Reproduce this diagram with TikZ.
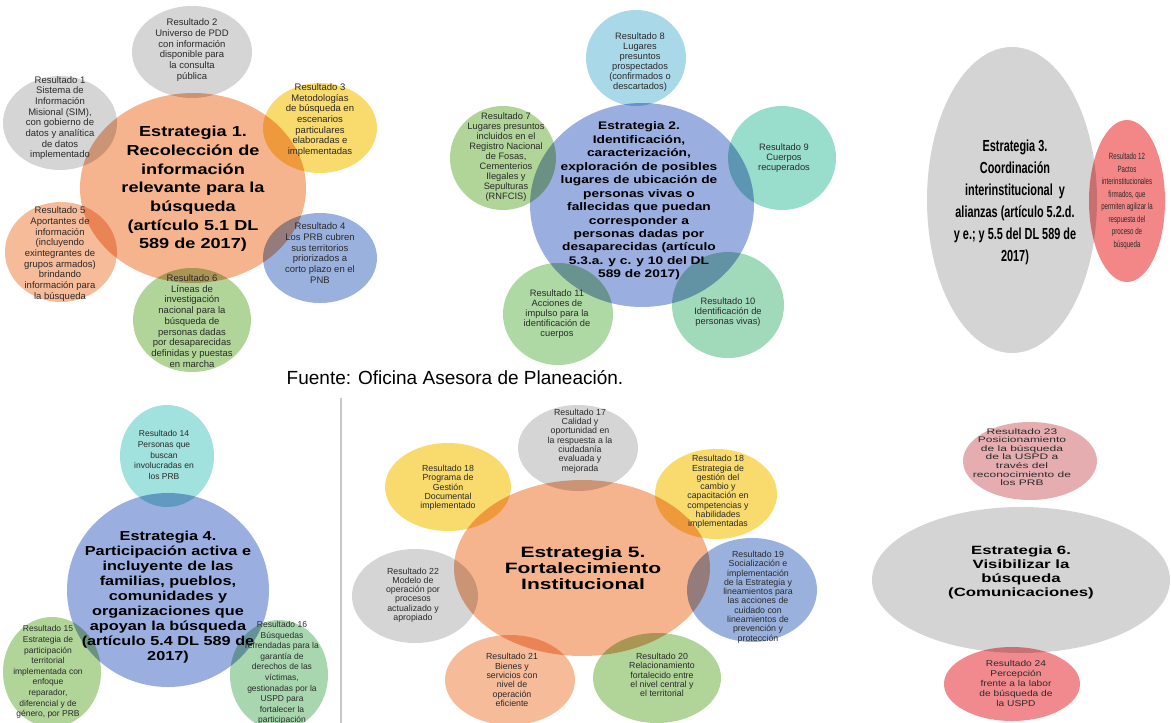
\documentclass[tikz,border=0pt]{standalone}
\usepackage{fontspec}
\setmainfont{Liberation Sans}
\newfontfamily\wideA[FakeStretch=1.25]{Liberation Sans}
\newfontfamily\wideB[FakeStretch=1.4]{Liberation Sans}
\newfontfamily\wideC[FakeStretch=1.2]{Liberation Sans}
\newfontfamily\wideD[FakeStretch=1.5]{Liberation Sans}
\newfontfamily\narrowA[FakeStretch=0.68]{Liberation Sans}
\usetikzlibrary{shapes.geometric}
\definecolor{corange}{HTML}{F5B48E}
\definecolor{cgrey}{HTML}{D0D0D0}
\definecolor{cyellow}{HTML}{F8D65C}
\definecolor{cblue}{HTML}{8FA9DA}
\definecolor{cgreen}{HTML}{A8D08D}
\definecolor{cperi}{HTML}{9BAEE0}
\definecolor{clblue}{HTML}{A0D4E6}
\definecolor{cteal}{HTML}{8ED9C6}
\definecolor{csea}{HTML}{97D5B4}
\definecolor{cgreenb}{HTML}{A6D59A}
\definecolor{cred}{HTML}{F27A7A}
\definecolor{cgreyb}{HTML}{D4D4D4}
\definecolor{cteal2}{HTML}{97DEDA}
\definecolor{cgreenc}{HTML}{9ED3A6}
\definecolor{cpink}{HTML}{E3A4A9}
\definecolor{cred2}{HTML}{F07D82}
\definecolor{tdark}{HTML}{2A2A2A}
\definecolor{cdiv}{HTML}{C8C8C8}
\tikzset{
  blob/.style={ellipse, inner sep=0pt, draw=none},
  bub/.style={ellipse, inner sep=0pt, draw=none, blend mode=multiply, fill opacity=0.9},
  sz/.style 2 args={minimum width=#1pt, minimum height=#2pt},
  rt/.style={align=center, inner sep=0pt, text=tdark},
  st/.style={align=center, inner sep=0pt, text=black},
  fA/.style={font=\fontsize{9.5}{10.7}\selectfont},
  fB/.style={font=\fontsize{9.3}{10}\selectfont},
  fC/.style={font=\fontsize{8.5}{10.6}\selectfont},
  fD/.style={font=\fontsize{8.8}{9.3}\selectfont},
  fE/.style={font=\wideD\fontsize{8}{8.6}\selectfont},
  fF/.style={font=\wideC\fontsize{8.5}{10}\selectfont},
  fN/.style={font=\narrowA\fontsize{9}{12.5}\selectfont},
  divider/.style={draw=cdiv, line width=1.5pt}
}
\begin{document}
\begin{tikzpicture}[x=1pt,y=-1pt]
\useasboundingbox (0,0) rectangle (1171,723);

% ---------------- Estrategia 1 ----------------
\node[blob, fill=corange, sz={226}{190}] (s1) at (193,188) {};
\node[bub, fill=cgrey,  sz={120}{92}]  (r2) at (192,52) {};
\node[bub, fill=cgrey,  sz={114}{94}]  (r1) at (60,123) {};
\node[bub, fill=cyellow,sz={114}{90}]  (r3) at (320,128) {};
\node[bub, fill=cblue,  sz={114}{90}]  (r4) at (320,258) {};
\node[bub, fill=corange,sz={112}{100}] (r5) at (61,252) {};
\node[bub, fill=cgreen, sz={118}{104}] (r6) at (192,320) {};
\node[st, font=\wideA\bfseries\fontsize{14.5}{18.7}\selectfont] (s1t) at (193,189)
  {Estrategia 1.\\Recolección de\\información\\relevante para la\\búsqueda\\(artículo 5.1 DL\\589 de 2017)};
\node[rt, fA] (r2t) at (192,50) {Resultado 2\\Universo de PDD\\con información\\disponible para\\la consulta\\pública};
\node[rt, fA] (r1t) at (60,118) {Resultado 1\\Sistema de\\Información\\Misional (SIM),\\con gobierno de\\datos y analítica\\de datos\\implementado};
\node[rt, fA] (r3t) at (320,120) {Resultado 3\\Metodologías\\de búsqueda en\\escenarios\\particulares\\elaboradas e\\implementadas};
\node[rt, fA] (r4t) at (320,253) {Resultado 4\\Los PRB cubren\\sus territorios\\priorizados a\\corto plazo en el\\PNB};
\node[rt, fA] (r5t) at (60,254) {Resultado 5\\Aportantes de\\información\\(incluyendo\\exintegrantes de\\grupos armados)\\brindando\\información para\\la búsqueda};
\node[rt, fA] (r6t) at (192,321) {Resultado 6\\Líneas de\\investigación\\nacional para la\\búsqueda de\\personas dadas\\por desaparecidas\\definidas y puestas\\en marcha};

% ---------------- Estrategia 2 ----------------
\node[blob, fill=cperi, sz={224}{204}] (s2) at (642,205) {};
\node[bub, fill=clblue, sz={100}{96}]  (r8)  at (636,58) {};
\node[bub, fill=cgreen, sz={106}{104}] (r7)  at (503,158) {};
\node[bub, fill=cteal,  sz={108}{104}] (r9)  at (782,158) {};
\node[bub, fill=csea,   sz={112}{106}] (r10) at (728,305) {};
\node[bub, fill=cgreenb,sz={110}{102}] (r11) at (558,314) {};
\node[st, font=\wideA\bfseries\fontsize{11}{13.45}\selectfont] (s2t) at (639,201)
  {Estrategia 2.\\Identificación,\\caracterización,\\exploración de posibles\\lugares de ubicación de\\personas vivas o\\fallecidas que puedan\\corresponder a\\personas dadas por\\desaparecidas (artículo\\5.3.a. y c. y 10 del DL\\589 de 2017)};
\node[rt, fB] (r8t)  at (640,62) {Resultado 8\\Lugares\\presuntos\\prospectados\\(confirmados o\\descartados)};
\node[rt, fB] (r7t)  at (506,157) {Resultado 7\\Lugares presuntos\\incluidos en el\\Registro Nacional\\de Fosas,\\Cementerios\\Ilegales y\\Sepulturas\\(RNFCIS)};
\node[rt, fB] (r9t)  at (784,158) {Resultado 9\\Cuerpos\\recuperados};
\node[rt, fB] (r10t) at (728,312) {Resultado 10\\Identificación de\\personas vivas)};
\node[rt, fB] (r11t) at (557,314) {Resultado 11\\Acciones de\\impulso para la\\identificación de\\cuerpos};

\node[inner sep=0pt, font=\fontsize{19}{21}\selectfont] (cap) at (455,378) {Fuente: Oficina Asesora de Planeación.};

% ---------------- Estrategia 3 ----------------
\node[blob, fill=cgreyb, sz={170}{306}] (s3) at (1012,200) {};
\node[bub, fill=cred, sz={76}{162}] (r12) at (1127,201) {};
\node[st, font=\narrowA\bfseries\fontsize{16}{22}\selectfont] (s3t) at (1015,202)
  {Estrategia 3.\\Coordinación\\interinstitucional\ \ y\\alianzas (artículo 5.2.d.\\y e.; y 5.5 del DL 589 de\\2017)};
\node[rt, fN] (r12t) at (1127,201) {Resultado 12\\Pactos\\interinstitucionales\\firmados, que\\permiten agilizar la\\respuesta del\\proceso de\\búsqueda};

% ---------------- divider ----------------
\coordinate (d1) at (341,398);
\coordinate (d2) at (341,723);
\draw[divider] (d1) -- (d2);

% ---------------- Estrategia 4 ----------------
\node[blob, fill=cperi, sz={202}{194}] (s4) at (168,590) {};
\node[bub, fill=cteal2, sz={94}{102}]  (r14) at (167,456) {};
\node[bub, fill=cgreen, sz={98}{110}]  (r15) at (52,672) {};
\node[bub, fill=cgreenc,sz={98}{110}]  (r16) at (279,675) {};
\node[st, font=\wideA\bfseries\fontsize{13}{15}\selectfont] (s4t) at (168,597)
  {Estrategia 4.\\Participación activa e\\incluyente de las\\familias, pueblos,\\comunidades y\\organizaciones que\\apoyan la búsqueda\\(artículo 5.4 DL 589 de\\2017)};
\node[rt, fC] (r14t) at (164,455) {Resultado 14\\Personas que\\buscan\\involucradas en\\los PRB};
\node[rt, fC] (r15t) at (48,672) {Resultado 15\\Estrategia de\\participación\\territorial\\implementada con\\enfoque\\reparador,\\diferencial y de\\género, por PRB};
\node[rt, fC] (r16t) at (282,673) {Resultado 16\\Búsquedas\\refrendadas para la\\garantía de\\derechos de las\\víctimas,\\gestionadas por la\\USPD para\\fortalecer la\\participación};

% ---------------- Estrategia 5 ----------------
\node[blob, fill=corange, sz={256}{176}] (s5) at (582,568) {};
\node[bub, fill=cgrey,  sz={120}{86}]  (r17)  at (578,448) {};
\node[bub, fill=cyellow,sz={126}{88}]  (r18a) at (448,487) {};
\node[bub, fill=cyellow,sz={122}{90}]  (r18b) at (716,494) {};
\node[bub, fill=cblue,  sz={130}{104}] (r19)  at (752,590) {};
\node[bub, fill=cgreen, sz={128}{90}]  (r20)  at (657,678) {};
\node[bub, fill=corange,sz={130}{90}]  (r21)  at (510,680) {};
\node[bub, fill=cgrey,  sz={126}{94}]  (r22)  at (415,596) {};
\node[st, font=\wideB\bfseries\fontsize{15}{16}\selectfont] (s5t) at (583,568)
  {Estrategia 5.\\Fortalecimiento\\Institucional};
\node[rt, fD] (r17t)  at (580,441) {Resultado 17\\Calidad y\\oportunidad en\\la respuesta a la\\ciudadanía\\evaluada y\\mejorada};
\node[rt, fD] (r18at) at (448,488) {Resultado 18\\Programa de\\Gestión\\Documental\\implementado};
\node[rt, fD] (r18bt) at (718,492) {Resultado 18\\Estrategia de\\gestión del\\cambio y\\capacitación en\\competencias y\\habilidades\\implementadas};
\node[rt, fD] (r19t)  at (758,597) {Resultado 19\\Socialización e\\implementación\\de la Estrategia y\\lineamientos para\\las acciones de\\cuidado con\\lineamientos de\\prevención y\\protección};
\node[rt, fD] (r20t)  at (662,675) {Resultado 20\\Relacionamiento\\fortalecido entre\\el nivel central y\\el territorial};
\node[rt, fD] (r21t)  at (512,680) {Resultado 21\\Bienes y\\servicios con\\nivel de\\operación\\eficiente};
\node[rt, fD] (r22t)  at (413,595) {Resultado 22\\Modelo de\\operación por\\procesos\\actualizado y\\apropiado};

% ---------------- Estrategia 6 ----------------
\node[blob, fill=cgreyb, sz={298}{146}] (s6) at (1021,580) {};
\node[bub, fill=cpink, sz={134}{78}] (r23) at (1030,461) {};
\node[bub, fill=cred2, sz={136}{74}] (r24) at (1012,684) {};
\node[st, font=\wideB\bfseries\fontsize{12}{14}\selectfont] (s6t) at (1021,572)
  {Estrategia 6.\\Visibilizar la\\búsqueda\\(Comunicaciones)};
\node[rt, fE] (r23t) at (1022,457) {Resultado 23\\Posicionamiento\\de la búsqueda\\de la USPD a\\través del\\reconocimiento de\\los PRB};
\node[rt, fF] (r24t) at (1016,683) {Resultado 24\\Percepción\\frente a la labor\\de búsqueda de\\la USPD};
\end{tikzpicture}
\end{document}
